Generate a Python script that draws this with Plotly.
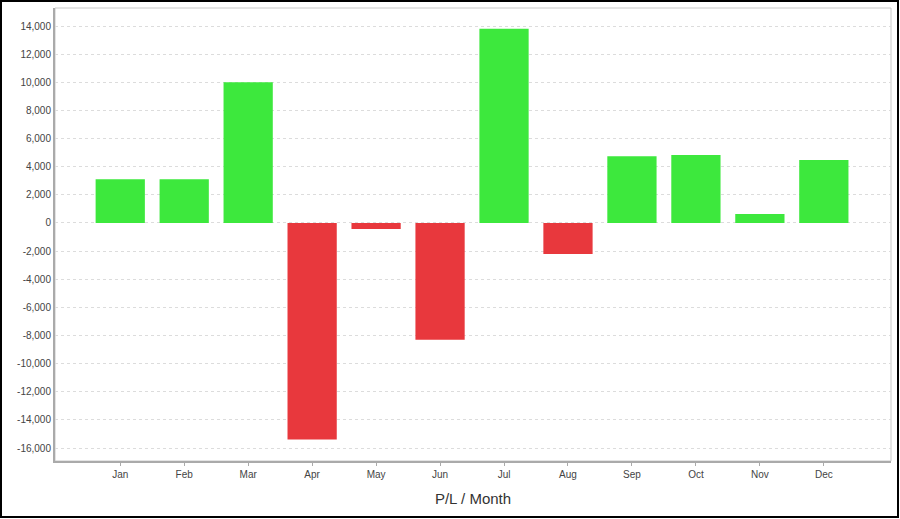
import plotly.graph_objects as go

months = ["Jan", "Feb", "Mar", "Apr", "May", "Jun", "Jul", "Aug", "Sep", "Oct", "Nov", "Dec"]
pl_values = [3100, 3100, 10000, -15400, -430, -8300, 13800, -2200, 4750, 4830, 640, 4470]
pos_color = "#3DE83D"
neg_color = "#E8383D"
colors = [pos_color if v >= 0 else neg_color for v in pl_values]
tick_vals = list(range(-16000, 14001, 2000))
tick_text = [f"{v:,}" for v in tick_vals]

fig = go.Figure(go.Bar(
    x=list(range(len(months))), y=pl_values,
    marker=dict(color=colors, line=dict(width=0)),
    width=0.77,
))

W, H = 900, 519
ml, mr, mt, mb = 55, 9, 8, 58
pw, ph = W - ml - mr, H - mt - mb

fig.update_layout(
    width=W, height=H,
    margin=dict(l=ml, r=mr, t=mt, b=mb),
    paper_bgcolor="white", plot_bgcolor="white",
    showlegend=False,
    font=dict(family="Liberation Sans, Arial", size=10, color="#444"),
    xaxis=dict(
        tickmode="array", tickvals=list(range(len(months))), ticktext=months,
        range=[-1.02, 12.05],
        showgrid=False, zeroline=False,
        showline=True, linecolor="#aaa", linewidth=2, mirror=False,
        ticks="outside", ticklen=3, tickcolor="#aaa",
        tickfont=dict(size=10, color="#444"),
        title=dict(text="P/L / Month", font=dict(size=15, color="#333"), standoff=14),
    ),
    yaxis=dict(
        range=[-16920, 15280],
        tickmode="array", tickvals=tick_vals, ticktext=tick_text,
        showgrid=True, gridcolor="#dcdcdc", griddash="3px,3px", gridwidth=1,
        zeroline=False,
        showline=True, linecolor="#aaa", linewidth=2,
        ticks="", tickfont=dict(size=10, color="#444"),
    ),
    shapes=[
        dict(type="rect", xref="paper", yref="paper", x0=0, x1=1, y0=0, y1=1,
             line=dict(color="#c8c8c8", width=1), layer="below"),
        dict(type="rect", xref="paper", yref="paper",
             x0=(1 - ml) / pw, x1=(W - 2 - ml) / pw,
             y0=-(H - 2 - (H - mb)) / ph, y1=1 + (mt - 1) / ph,
             line=dict(color="black", width=2)),
    ],
)

fig.write_html("out.html", config={"displayModeBar": False},
               post_script="document.body.style.margin='0';document.body.style.overflow='hidden';")
